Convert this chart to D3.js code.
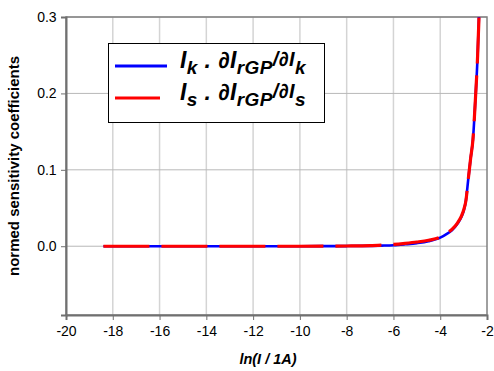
<!DOCTYPE html>
<html>
<head>
<meta charset="utf-8">
<script src="https://d3js.org/d3.v7.min.js"></script>
<style>
  body { margin: 0; background: #fff; }
  svg text { font-family: "Liberation Sans", Arial, sans-serif; }
</style>
</head>
<body>
<div id="chart"></div>
<script>
// ln(I/1A) values and sensitivity coefficients
const lnI = [-18.4, -17, -16, -15, -14, -13, -12, -11, -10, -9, -8, -7, -6.5, -6, -5.5, -5, -4.5, -4,
             -3.75, -3.5, -3.25, -3.1, -3.0, -2.9, -2.8, -2.7, -2.6, -2.5, -2.4, -2.3];
const kSens = [0, 0, 0, 0, 0, 0, 0, 0, 0, 0.0001, 0.0002, 0.0005, 0.0008, 0.0013, 0.0025, 0.004, 0.0065, 0.0113,
               0.0155, 0.021, 0.03, 0.038, 0.046, 0.06, 0.088, 0.115, 0.14, 0.19, 0.25, 0.34];
const sSens = [0, 0, 0, 0, 0, 0, 0, 0, 0, 0.0001, 0.0003, 0.0008, 0.0015, 0.0024, 0.0038, 0.0055, 0.0078, 0.012,
               0.0165, 0.022, 0.031, 0.039, 0.047, 0.06, 0.088, 0.115, 0.14, 0.19, 0.25, 0.34];
const xTicks = [-20, -18, -16, -14, -12, -10, -8, -6, -4, -2];
const yTicks = [0, 0.1, 0.2, 0.3];

const width = 494, height = 371;
const m = {left: 66, right: 7, top: 17, bottom: 56};

const svg = d3.select("#chart").append("svg")
    .attr("width", width)
    .attr("height", height);

const x = d3.scaleLinear().domain([-20, -2]).range([m.left, width - m.right]);
const y = d3.scaleLinear().domain([-0.09, 0.3]).range([height - m.bottom, m.top]);

// grid
svg.append("g").selectAll("line").data(xTicks.slice(1, -1)).enter().append("line")
    .attr("x1", d => x(d)).attr("x2", d => x(d))
    .attr("y1", y(0.3)).attr("y2", y(-0.09))
    .attr("stroke", "#d4d4d4").attr("stroke-width", 1.5);
svg.append("g").selectAll("line").data(yTicks).enter().append("line")
    .attr("x1", x(-20)).attr("x2", x(-2))
    .attr("y1", d => y(d)).attr("y2", d => y(d))
    .attr("stroke", "#b8b8b8").attr("stroke-width", 1);

// frame
svg.append("rect")
    .attr("x", x(-20)).attr("y", y(0.3))
    .attr("width", x(-2) - x(-20)).attr("height", y(-0.09) - y(0.3))
    .attr("fill", "none").attr("stroke", "#808080").attr("stroke-width", 1.5);

// axes
const xAxis = svg.append("g")
    .attr("transform", "translate(0," + y(-0.09) + ")")
    .call(d3.axisBottom(x).tickValues(xTicks).tickSize(5).tickFormat(d => String(d)));
const yAxis = svg.append("g")
    .attr("transform", "translate(" + x(-20) + ",0)")
    .call(d3.axisLeft(y).tickValues(yTicks).tickSize(5).tickFormat(d => d.toFixed(1)));
[xAxis, yAxis].forEach(a => {
    a.select(".domain").attr("stroke", "#707070").attr("stroke-width", 2);
    a.selectAll(".tick line").attr("stroke", "#707070");
    a.selectAll("text").attr("font-size", 14).attr("fill", "#000")
        .attr("font-family", "'Liberation Sans', Arial, sans-serif");
});
xAxis.selectAll("text").attr("dy", "0.95em");
yAxis.selectAll("text").attr("dx", "-0.1em");

// clip
svg.append("clipPath").attr("id", "clip").append("rect")
    .attr("x", x(-20)).attr("y", y(0.3))
    .attr("width", x(-2) - x(-20)).attr("height", y(-0.09) - y(0.3));

const line = d3.line().curve(d3.curveMonotoneX);
const kLine = line(lnI.map((v, i) => [x(v), y(kSens[i])]));
const sLine = line(lnI.map((v, i) => [x(v), y(sSens[i])]));

const g = svg.append("g").attr("clip-path", "url(#clip)");
g.append("path").attr("d", kLine)
    .attr("fill", "none").attr("stroke", "#0000ff").attr("stroke-width", 2.6);
g.append("path").attr("d", sLine)
    .attr("fill", "none").attr("stroke", "#ff0000").attr("stroke-width", 3.2)
    .attr("stroke-dasharray", "46,12");

// legend
const lg = svg.append("g");
lg.append("rect").attr("x", 108.5).attr("y", 43.5).attr("width", 216).attr("height", 79)
    .attr("fill", "#fff").attr("stroke", "#000").attr("stroke-width", 1);
lg.append("line").attr("x1", 115).attr("x2", 167).attr("y1", 66).attr("y2", 66)
    .attr("stroke", "#0000ff").attr("stroke-width", 3);
lg.append("line").attr("x1", 115).attr("x2", 160).attr("y1", 98).attr("y2", 98)
    .attr("stroke", "#ff0000").attr("stroke-width", 3);

function legendText(yy, sub) {
    const t = lg.append("text").attr("x", 180).attr("y", yy)
        .attr("font-size", 23).attr("font-weight", "bold").attr("font-style", "italic")
        .attr("letter-spacing", 0.4);
    t.append("tspan").text("I");
    t.append("tspan").attr("dy", 6).attr("font-size", 19).text(sub);
    t.append("tspan").attr("dy", -6).text(" . ∂I");
    t.append("tspan").attr("dy", 6).attr("font-size", 19).text("rGP");
    t.append("tspan").attr("dy", -8).attr("font-size", 20).text("/∂I");
    t.append("tspan").attr("dy", 8).attr("font-size", 19).text(sub);
}
legendText(68, "k");
legendText(100, "s");

// axis titles
svg.append("text")
    .attr("x", 268).attr("y", 364)
    .attr("text-anchor", "middle")
    .attr("font-size", 14.5).attr("font-weight", "bold").attr("font-style", "italic")
    .text("ln(I / 1A)");
svg.append("text")
    .attr("transform", "translate(19," + y(0.105) + ") rotate(-90)")
    .attr("text-anchor", "middle")
    .attr("font-size", 15).attr("font-weight", "bold")
    .text("normed sensitivity coefficients");
</script>
</body>
</html>
